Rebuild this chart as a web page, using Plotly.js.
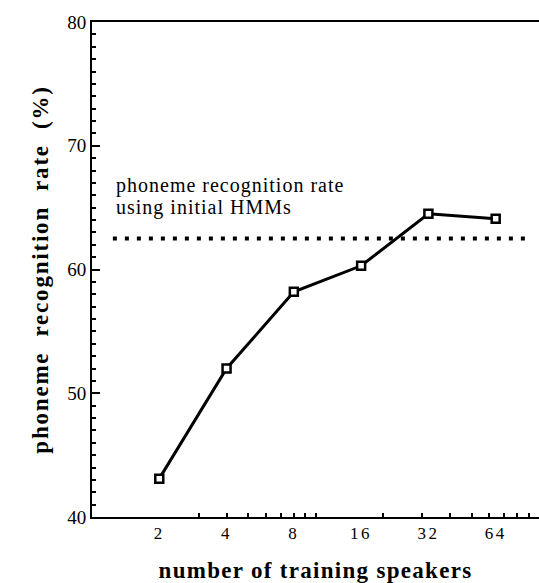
<!DOCTYPE html>
<html>
<head>
<meta charset="utf-8">
<script src="https://cdn.plot.ly/plotly-3.0.1.min.js"></script>
<style>
html,body{margin:0;padding:0;background:#fff;}
#chart{width:539px;height:583px;}
#chart .ytitle{letter-spacing:1.8px;}
#chart .xtitle{letter-spacing:1.3px;}
#chart .annotation-text{letter-spacing:1px;}
#chart .xtick text{letter-spacing:2.5px;}
</style>
</head>
<body>
<div id="chart"></div>
<script>
// Data
var speakers = [2, 4, 8, 16, 32, 64];
var recognitionRate = [43.1, 52.0, 58.2, 60.3, 64.5, 64.1];
var initialHmmRate = 62.5;
var baselineX = [1.24, 89];
var xTickLabels = ['2', '4', '8', '16', '32', '64'];
var xMinorTicks = [3, 4, 5, 6, 7, 8, 9, 10, 20, 30, 40, 50, 60, 70, 80, 90];
var noteLines = ['phoneme recognition rate', 'using initial HMMs'];
var noteY = [66.8, 65.05];

var serif = '"Liberation Serif", "Times New Roman", serif';

var traces = [
  {
    x: baselineX,
    y: baselineX.map(function(){ return initialHmmRate; }),
    mode: 'lines',
    line: {color: '#000', width: 4, dash: '4px,8px'},
    hoverinfo: 'skip',
    showlegend: false
  },
  {
    x: speakers,
    y: recognitionRate,
    mode: 'lines+markers',
    line: {color: '#000', width: 3},
    marker: {symbol: 'square', size: 8, color: '#fff', line: {color: '#000', width: 2.5}},
    showlegend: false
  }
];

var layout = {
  width: 539,
  height: 583,
  margin: {l: 92, r: 0, t: 22, b: 66},
  paper_bgcolor: '#fff',
  plot_bgcolor: '#fff',
  font: {family: serif, color: '#000'},
  xaxis: {
    type: 'log',
    range: [0, 2],
    showgrid: false,
    zeroline: false,
    showline: true,
    linecolor: '#000',
    linewidth: 2,
    mirror: true,
    tickvals: speakers,
    ticktext: xTickLabels,
    ticks: '',
    tickfont: {size: 17, family: serif, color: '#000'},
    minor: {tickvals: xMinorTicks, ticks: 'inside', ticklen: 4, tickwidth: 2, tickcolor: '#000', showgrid: false},
    title: {text: 'number of training speakers', font: {size: 23, family: serif, weight: 'bold', color: '#000'}, standoff: 20}
  },
  yaxis: {
    range: [40, 80],
    dtick: 10,
    showgrid: false,
    zeroline: false,
    showline: true,
    linecolor: '#000',
    linewidth: 2,
    ticks: 'inside',
    ticklen: 8,
    tickwidth: 2,
    tickcolor: '#000',
    tickfont: {size: 19, family: serif, color: '#000'},
    minor: {dtick: 1, ticks: 'inside', ticklen: 4, tickwidth: 2, tickcolor: '#000', showgrid: false},
    title: {text: 'phoneme\u00a0\u00a0recognition\u00a0\u00a0rate\u00a0\u00a0(%)', font: {size: 23, family: serif, weight: 'bold', color: '#000'}, standoff: 12}
  },
  annotations: noteLines.map(function(t, i){
    return {
      xref: 'paper', yref: 'y',
      x: 0.05, y: noteY[i],
      xanchor: 'left', yanchor: 'middle', align: 'left',
      text: t,
      showarrow: false,
      font: {size: 20, family: serif, color: '#000'}
    };
  })
};

Plotly.newPlot('chart', traces, layout, {staticPlot: true, displayModeBar: false});
</script>
</body>
</html>
